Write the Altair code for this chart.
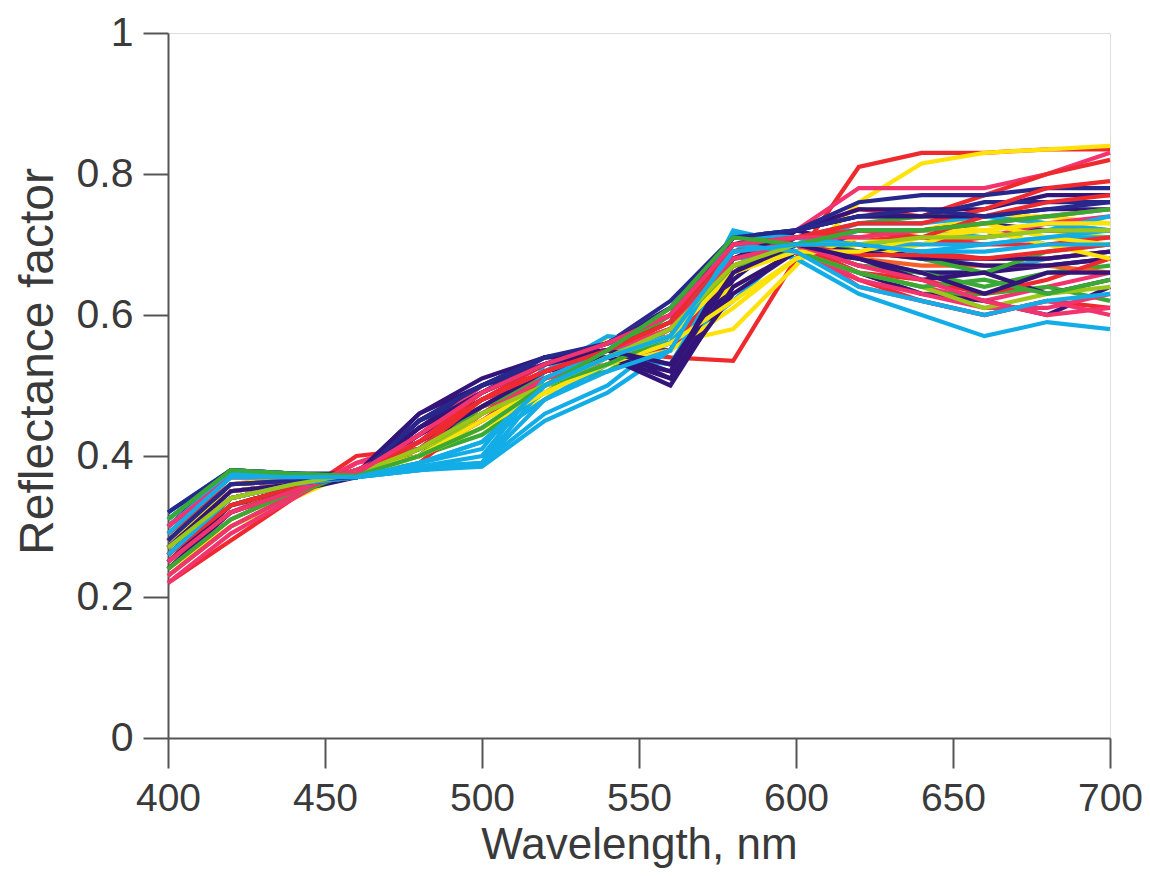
import altair as alt
import pandas as pd

wavelengths = [400, 420, 440, 460, 480, 500, 520, 540, 560, 580, 600, 620, 640, 660, 680, 700]

s01 = [0.22, 0.28, 0.34, 0.40, 0.41, 0.47, 0.50, 0.55, 0.54, 0.535, 0.68, 0.81, 0.83, 0.83, 0.835, 0.835]
s02 = [0.24, 0.30, 0.345, 0.38, 0.40, 0.44, 0.48, 0.57, 0.56, 0.58, 0.67, 0.76, 0.815, 0.83, 0.835, 0.84]
s03 = [0.29, 0.36, 0.37, 0.375, 0.43, 0.49, 0.53, 0.55, 0.60, 0.69, 0.72, 0.78, 0.78, 0.78, 0.80, 0.83]
s04 = [0.25, 0.32, 0.355, 0.38, 0.40, 0.45, 0.50, 0.53, 0.56, 0.66, 0.72, 0.75, 0.74, 0.77, 0.80, 0.82]
s05 = [0.30, 0.38, 0.375, 0.375, 0.46, 0.50, 0.54, 0.55, 0.51, 0.65, 0.72, 0.75, 0.75, 0.75, 0.77, 0.77]
s06 = [0.26, 0.34, 0.36, 0.37, 0.45, 0.50, 0.53, 0.56, 0.62, 0.71, 0.72, 0.74, 0.74, 0.76, 0.76, 0.76]
s07 = [0.32, 0.38, 0.375, 0.37, 0.385, 0.39, 0.53, 0.56, 0.55, 0.72, 0.70, 0.71, 0.71, 0.72, 0.70, 0.70]
s08 = [0.30, 0.37, 0.37, 0.375, 0.40, 0.43, 0.49, 0.54, 0.60, 0.70, 0.71, 0.73, 0.74, 0.74, 0.73, 0.72]
s09 = [0.23, 0.30, 0.34, 0.38, 0.40, 0.45, 0.50, 0.53, 0.58, 0.64, 0.69, 0.70, 0.72, 0.74, 0.74, 0.73]
s10 = [0.28, 0.36, 0.365, 0.37, 0.38, 0.385, 0.45, 0.49, 0.55, 0.62, 0.70, 0.68, 0.66, 0.66, 0.68, 0.69]
s11 = [0.27, 0.35, 0.36, 0.37, 0.39, 0.46, 0.51, 0.54, 0.56, 0.68, 0.70, 0.69, 0.69, 0.68, 0.68, 0.69]
s12 = [0.25, 0.33, 0.35, 0.37, 0.41, 0.47, 0.52, 0.55, 0.55, 0.68, 0.70, 0.67, 0.66, 0.66, 0.67, 0.68]
s13 = [0.22, 0.29, 0.34, 0.39, 0.42, 0.48, 0.51, 0.53, 0.58, 0.66, 0.70, 0.66, 0.64, 0.62, 0.64, 0.66]
s14 = [0.29, 0.37, 0.37, 0.37, 0.385, 0.39, 0.46, 0.50, 0.57, 0.70, 0.68, 0.63, 0.60, 0.57, 0.59, 0.58]
s15 = [0.26, 0.34, 0.36, 0.37, 0.41, 0.46, 0.50, 0.52, 0.57, 0.68, 0.69, 0.66, 0.63, 0.63, 0.64, 0.62]
s16 = [0.27, 0.34, 0.36, 0.375, 0.44, 0.50, 0.54, 0.54, 0.50, 0.64, 0.69, 0.66, 0.63, 0.62, 0.60, 0.64]
s17 = [0.24, 0.31, 0.35, 0.38, 0.40, 0.47, 0.52, 0.54, 0.55, 0.67, 0.69, 0.65, 0.62, 0.60, 0.62, 0.61]
s18 = [0.26, 0.33, 0.355, 0.375, 0.40, 0.44, 0.49, 0.53, 0.55, 0.61, 0.68, 0.70, 0.70, 0.71, 0.72, 0.71]
s19 = [0.31, 0.38, 0.375, 0.372, 0.45, 0.49, 0.53, 0.55, 0.53, 0.66, 0.71, 0.72, 0.72, 0.73, 0.72, 0.72]
s20 = [0.23, 0.30, 0.345, 0.38, 0.40, 0.47, 0.52, 0.55, 0.59, 0.69, 0.70, 0.67, 0.66, 0.64, 0.66, 0.67]
s21 = [0.28, 0.35, 0.36, 0.37, 0.43, 0.50, 0.53, 0.56, 0.61, 0.70, 0.71, 0.70, 0.70, 0.71, 0.73, 0.74]
s22 = [0.30, 0.37, 0.37, 0.372, 0.39, 0.41, 0.52, 0.57, 0.56, 0.71, 0.70, 0.69, 0.69, 0.70, 0.71, 0.71]
s23 = [0.25, 0.32, 0.355, 0.375, 0.41, 0.46, 0.51, 0.54, 0.58, 0.67, 0.70, 0.68, 0.67, 0.67, 0.67, 0.66]
s24 = [0.28, 0.36, 0.365, 0.37, 0.45, 0.50, 0.53, 0.56, 0.60, 0.70, 0.72, 0.70, 0.68, 0.67, 0.67, 0.68]
s25 = [0.27, 0.34, 0.36, 0.375, 0.42, 0.48, 0.52, 0.55, 0.57, 0.68, 0.70, 0.65, 0.63, 0.61, 0.61, 0.63]
s26 = [0.29, 0.36, 0.365, 0.37, 0.42, 0.47, 0.51, 0.55, 0.60, 0.71, 0.71, 0.69, 0.68, 0.66, 0.69, 0.70]
s27 = [0.26, 0.33, 0.355, 0.375, 0.43, 0.48, 0.53, 0.56, 0.60, 0.69, 0.71, 0.71, 0.71, 0.70, 0.70, 0.71]
s28 = [0.31, 0.38, 0.375, 0.37, 0.38, 0.39, 0.50, 0.54, 0.53, 0.68, 0.69, 0.72, 0.72, 0.71, 0.72, 0.74]
s29 = [0.29, 0.36, 0.37, 0.372, 0.41, 0.45, 0.50, 0.53, 0.57, 0.66, 0.69, 0.68, 0.70, 0.73, 0.71, 0.70]
s30 = [0.24, 0.32, 0.35, 0.38, 0.42, 0.47, 0.52, 0.54, 0.51, 0.63, 0.69, 0.68, 0.65, 0.66, 0.63, 0.65]
s31 = [0.30, 0.37, 0.37, 0.375, 0.40, 0.45, 0.51, 0.55, 0.58, 0.68, 0.70, 0.66, 0.65, 0.63, 0.65, 0.68]
s32 = [0.32, 0.38, 0.375, 0.37, 0.44, 0.49, 0.54, 0.55, 0.59, 0.71, 0.72, 0.76, 0.77, 0.77, 0.78, 0.78]
s33 = [0.23, 0.30, 0.345, 0.39, 0.41, 0.46, 0.51, 0.54, 0.57, 0.67, 0.70, 0.64, 0.62, 0.60, 0.62, 0.60]
s34 = [0.25, 0.33, 0.355, 0.375, 0.40, 0.46, 0.50, 0.54, 0.58, 0.67, 0.69, 0.66, 0.64, 0.61, 0.63, 0.64]
s35 = [0.27, 0.35, 0.36, 0.37, 0.39, 0.42, 0.48, 0.53, 0.56, 0.69, 0.70, 0.73, 0.73, 0.74, 0.73, 0.72]
s36 = [0.26, 0.34, 0.36, 0.37, 0.43, 0.48, 0.52, 0.54, 0.52, 0.66, 0.70, 0.69, 0.68, 0.68, 0.68, 0.69]
s37 = [0.28, 0.35, 0.36, 0.375, 0.41, 0.48, 0.52, 0.55, 0.59, 0.68, 0.71, 0.73, 0.73, 0.75, 0.78, 0.79]
s38 = [0.27, 0.34, 0.36, 0.375, 0.40, 0.44, 0.49, 0.53, 0.56, 0.62, 0.68, 0.71, 0.72, 0.72, 0.70, 0.68]
s39 = [0.25, 0.33, 0.355, 0.375, 0.46, 0.51, 0.54, 0.55, 0.52, 0.68, 0.72, 0.74, 0.74, 0.74, 0.75, 0.75]
s40 = [0.30, 0.375, 0.37, 0.37, 0.385, 0.40, 0.51, 0.55, 0.57, 0.715, 0.71, 0.70, 0.70, 0.70, 0.71, 0.72]
s41 = [0.26, 0.33, 0.355, 0.38, 0.42, 0.49, 0.53, 0.55, 0.58, 0.69, 0.70, 0.685, 0.685, 0.68, 0.69, 0.70]
s42 = [0.24, 0.31, 0.35, 0.38, 0.41, 0.46, 0.50, 0.53, 0.57, 0.67, 0.69, 0.66, 0.64, 0.65, 0.63, 0.65]
s43 = [0.28, 0.35, 0.36, 0.37, 0.40, 0.45, 0.50, 0.54, 0.57, 0.66, 0.69, 0.69, 0.71, 0.72, 0.73, 0.73]
s44 = [0.25, 0.32, 0.35, 0.38, 0.42, 0.48, 0.52, 0.55, 0.58, 0.68, 0.70, 0.67, 0.65, 0.62, 0.60, 0.61]
s45 = [0.27, 0.35, 0.36, 0.37, 0.44, 0.49, 0.53, 0.55, 0.53, 0.66, 0.70, 0.68, 0.66, 0.63, 0.66, 0.66]
s46 = [0.26, 0.34, 0.36, 0.37, 0.38, 0.39, 0.48, 0.52, 0.55, 0.70, 0.69, 0.64, 0.62, 0.60, 0.62, 0.63]
s47 = [0.29, 0.36, 0.365, 0.372, 0.42, 0.48, 0.52, 0.55, 0.59, 0.70, 0.71, 0.72, 0.71, 0.74, 0.76, 0.77]
s48 = [0.28, 0.36, 0.365, 0.37, 0.45, 0.50, 0.54, 0.56, 0.61, 0.71, 0.72, 0.74, 0.75, 0.74, 0.75, 0.76]
s49 = [0.27, 0.34, 0.36, 0.375, 0.41, 0.46, 0.50, 0.54, 0.58, 0.67, 0.70, 0.70, 0.71, 0.71, 0.72, 0.72]
s50 = [0.30, 0.37, 0.37, 0.375, 0.43, 0.49, 0.53, 0.56, 0.60, 0.70, 0.71, 0.71, 0.72, 0.73, 0.74, 0.75]
s51 = [0.31, 0.38, 0.375, 0.372, 0.40, 0.44, 0.50, 0.55, 0.61, 0.71, 0.70, 0.72, 0.72, 0.73, 0.74, 0.75]
s52 = [0.29, 0.37, 0.37, 0.37, 0.39, 0.42, 0.50, 0.54, 0.57, 0.69, 0.70, 0.70, 0.69, 0.69, 0.70, 0.70]

series = [s01, s02, s03, s04, s05, s06, s07, s08, s09, s10, s11, s12, s13, s14, s15, s16, s17, s18, s19,
          s20, s21, s22, s23, s24, s25, s26, s27, s28, s29, s30, s31, s32, s33, s34, s35, s36, s37, s38,
          s39, s40, s41, s42, s43, s44, s45, s46, s47, s48, s49, s50, s51, s52]

RED = "#ee2a2e"
PINK = "#f2336e"
YELLOW = "#ffe20a"
GREEN = "#3aaa35"
CYAN = "#12ade6"
PURPLE = "#33157a"
NAVY = "#26288c"
ORANGE = "#f5602a"
LIME = "#9cc61a"

series_colors = [RED, YELLOW, PINK, RED, PURPLE, NAVY, CYAN, GREEN, YELLOW, CYAN,
                 RED, PURPLE, PINK, CYAN, GREEN, PURPLE, RED, YELLOW, NAVY, GREEN,
                 PINK, CYAN, ORANGE, PURPLE, PINK, GREEN, RED, CYAN, YELLOW, PURPLE,
                 RED, NAVY, PINK, LIME, CYAN, PURPLE, RED, YELLOW, PURPLE, CYAN,
                 RED, GREEN, YELLOW, PINK, PURPLE, CYAN, RED, NAVY, LIME, PINK,
                 GREEN, CYAN]

x_ticks = [400, 450, 500, 550, 600, 650, 700]
y_ticks = [0, 0.2, 0.4, 0.6, 0.8, 1]

rows = []
for i, (vals, col) in enumerate(zip(series, series_colors)):
    for w, v in zip(wavelengths, vals):
        rows.append({"sample": f"S{i + 1:02d}", "order": i, "wavelength": w,
                     "reflectance": v, "color": col})
df = pd.DataFrame(rows)

FONT = "Liberation Sans"
TXT = "#3a3a3a"
AX = "#555555"

chart = alt.Chart(df).mark_line(strokeWidth=4.2, strokeJoin="miter").encode(
    x=alt.X("wavelength:Q",
            scale=alt.Scale(domain=[400, 700], nice=False, zero=False),
            axis=alt.Axis(values=x_ticks, title="Wavelength, nm", grid=False,
                          tickSize=30, tickWidth=2, tickColor=AX,
                          domainColor=AX, domainWidth=2,
                          labelFont=FONT, labelFontSize=39, labelColor=TXT,
                          labelPadding=11, labelFlush=False, labelOverlap=False,
                          titleFont=FONT, titleFontSize=44, titleFontWeight="normal",
                          titleColor=TXT, titleY=120, titleBaseline="alphabetic")),
    y=alt.Y("reflectance:Q",
            scale=alt.Scale(domain=[0, 1], nice=False),
            axis=alt.Axis(values=y_ticks, format=".1~f", title="Reflectance factor", grid=False,
                          tickSize=25, tickWidth=2, tickColor=AX,
                          domainColor=AX, domainWidth=2,
                          labelFont=FONT, labelFontSize=41, labelColor=TXT,
                          labelPadding=10, labelFlush=False, labelOverlap=False,
                          titleFont=FONT, titleFontSize=48, titleFontWeight="normal",
                          titleColor=TXT, titleAngle=270, titleX=-116, titleY=328,
                          titleAlign="center", titleBaseline="alphabetic")),
    color=alt.Color("color:N", scale=None, legend=None),
    detail="sample:N",
    order="order:Q",
).properties(
    width=942,
    height=705,
    autosize=alt.AutoSizeParams(type="none"),
    padding={"left": 160, "top": 25, "right": 32, "bottom": 130},
).configure_view(
    stroke=AX, strokeWidth=2
).configure(background="white")

chart.save("out.html", embed_options={"renderer": "svg", "actions": False})
